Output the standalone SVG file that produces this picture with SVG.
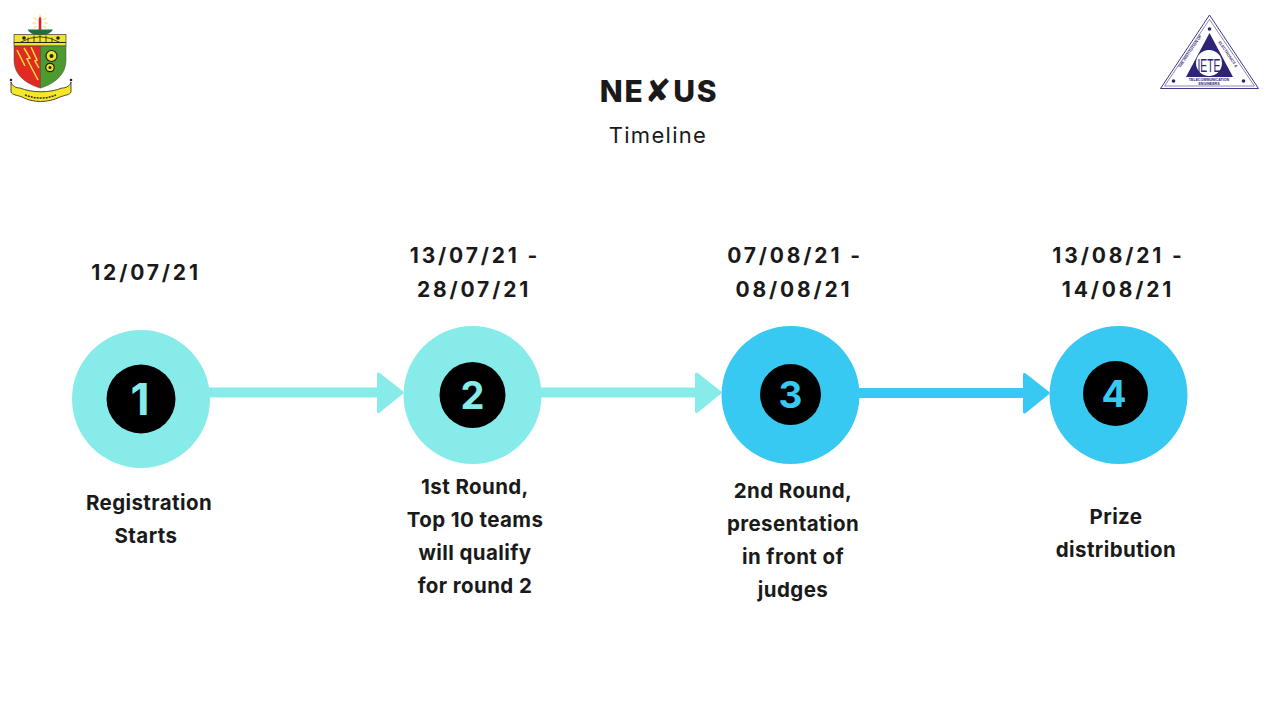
<svg xmlns="http://www.w3.org/2000/svg" width="1280" height="720" viewBox="0 0 1280 720">
<style>
text{font-family:Inter,"Liberation Sans",sans-serif;fill:#1a1a1a;text-anchor:middle}
.date{font-size:21px;font-weight:700;letter-spacing:2.850px}
.lab{font-size:20.500px;font-weight:700;letter-spacing:.4px}
.num{font-weight:700}
.teal{fill:#87ebe9}.blue{fill:#38c9f2}
.ct{fill:none;stroke-width:10}
.logo{font-family:"Liberation Sans",sans-serif;font-weight:700;fill:#2d2474}
</style>
<rect width="1280" height="720" fill="#fff"/>
<g id="connectors">
<path d="M209 392.500H381" stroke="#87ebe9" class="ct"/>
<path d="M378.500 374V411.500L402 392.500Z" fill="#87ebe9" stroke="#87ebe9" stroke-width="3" stroke-linejoin="round"/>
<path d="M540 392.500H699" stroke="#87ebe9" class="ct"/>
<path d="M696.500 374V411.500L720 392.500Z" fill="#87ebe9" stroke="#87ebe9" stroke-width="3" stroke-linejoin="round"/>
<path d="M858 393H1027" stroke="#38c9f2" class="ct"/>
<path d="M1024.500 374.500V412L1048 393Z" fill="#38c9f2" stroke="#38c9f2" stroke-width="3" stroke-linejoin="round"/>
</g>
<g id="title"><text x="659" y="102" style="font-size:30px;font-weight:800;letter-spacing:1.800px">NE<tspan style="font-family:'DejaVu Sans',sans-serif;font-size:32px">✘</tspan>US</text>
<text x="658" y="143" style="font-size:22px;font-weight:400;letter-spacing:1.300px">Timeline</text></g>
<g id="node1"><circle cx="141" cy="399" r="69" class="teal"/><circle cx="141" cy="399" r="34.500" fill="#000"/><text x="140" y="415" class="num" style="fill:#87ebe9;font-size:44px">1</text>
<text x="146" y="280" class="date">12/07/21</text><text x="149" y="510" class="lab">Registration</text><text x="146" y="543" class="lab">Starts</text></g>
<g id="node2"><circle cx="472.500" cy="395" r="69" class="teal"/><circle cx="472.500" cy="395" r="33" fill="#000"/><text x="472.500" y="409" class="num" style="fill:#87ebe9;font-size:38px">2</text>
<text x="475" y="263" class="date">13/07/21 -</text><text x="474" y="297" class="date">28/07/21</text>
<text x="475" y="494" class="lab">1st Round,</text><text x="475" y="527" class="lab">Top 10 teams</text><text x="475" y="560" class="lab">will qualify</text><text x="475" y="593" class="lab">for round 2</text></g>
<g id="node3"><circle cx="790.500" cy="395" r="69" class="blue"/><circle cx="790.500" cy="394.500" r="30.500" fill="#000"/><text x="790.500" y="408" class="num" style="fill:#38c9f2;font-size:37px">3</text>
<text x="795" y="263" class="date">07/08/21 -</text><text x="794" y="297" class="date">08/08/21</text>
<text x="793" y="498" class="lab">2nd Round,</text><text x="793" y="531" class="lab">presentation</text><text x="793" y="564" class="lab">in front of</text><text x="793" y="597" class="lab">judges</text></g>
<g id="node4"><circle cx="1118.500" cy="395" r="69" class="blue"/><circle cx="1115.500" cy="393.500" r="32.500" fill="#000"/><text x="1114" y="407" class="num" style="fill:#38c9f2;font-size:37px">4</text>
<text x="1118.500" y="263" class="date">13/08/21 -</text><text x="1118" y="297" class="date">14/08/21</text>
<text x="1116" y="524" class="lab">Prize</text><text x="1116" y="557" class="lab">distribution</text></g>
<g id="logo-left">
<path d="M40 14.500V18M33.500 17.500L36.500 20M46.500 17.500L43.500 20M32.500 23H36M47.500 23H44M33.500 28L36.500 26M46.500 28L43.500 26" fill="none" stroke="#f2d93a" stroke-width="1"/>
<path d="M40 16.500C41.800 19 41.500 20 41.300 21V30.500H38.700V21C38.500 20 38.500 19 40 16.500Z" fill="#e01f26"/>
<path d="M27.500 29.500H53C51 32.500 48 35 40 35S29.500 32.500 27.500 29.500Z" fill="#1f6f3a"/>
<path d="M14 34.500H66V46H14Z" fill="#efe62c" stroke="#333" stroke-width=".7"/>
<path d="M14 42.500H66" stroke="#222" stroke-width="1"/>
<path d="M20 42.500Q40 31 60 42.500M28 37.500V42.500M34 35.500V42.500M40 35V42.500M46 35.500V42.500M52 37.500V42.500" fill="none" stroke="#222" stroke-width=".8"/>
<circle cx="24" cy="38" r="1.800" fill="#222"/><circle cx="58" cy="38" r="1.800" fill="#222"/>
<path d="M14 46H40.500V88C26 84 14 75 14 60Z" fill="#e12a20" stroke="#444" stroke-width=".5"/>
<path d="M40.500 46H66V60C66 75 54 84 40.500 88Z" fill="#4c9b2f" stroke="#444" stroke-width=".5"/>
<path d="M17 50L25 66M24 48L30 58L27 59L38 80M31 47L37 60L35 61L39 68" stroke="#f3e33a" stroke-width="1.500" fill="none"/>
<circle cx="51.500" cy="56" r="5.500" fill="#efe62c" stroke="#222" stroke-width="1.200"/><circle cx="51.500" cy="56" r="2" fill="#222"/>
<circle cx="50" cy="67.500" r="4.200" fill="#efe62c" stroke="#222" stroke-width="1.200"/><circle cx="50" cy="67.500" r="1.500" fill="#222"/>
<path d="M11 82V92C12 95 17 95 22 97C33 103 48 103 60 97C65 95 70 95 71 92V82C70 86 66 88 62 88C50 93 32 93 20 88C16 88 12 86 11 82Z" fill="#f5e628" stroke="#222" stroke-width=".8"/>
<path d="M25 95C35 99 47 99 56 95" fill="none" stroke="#333" stroke-width="1.500" stroke-dasharray="2 1"/>
<circle cx="11" cy="80" r="1.300" fill="#222"/><circle cx="71" cy="80" r="1.300" fill="#222"/>
</g>
<g id="logo-right">
<path d="M1209.500 15L1258.500 88.500H1160.500Z" fill="#fff" stroke="#3f3a8c" stroke-width="1"/>
<path d="M1209.500 19.500L1254.500 86H1164.500Z" fill="none" stroke="#3f3a8c" stroke-width=".6"/>
<path d="M1209.500 33L1233 77H1186Z" fill="#2d2474"/>
<circle cx="1209" cy="63" r="13" fill="#fff"/>
<circle cx="1209.500" cy="29" r="1.800" fill="#2d2474"/><circle cx="1173.500" cy="81" r="1.800" fill="#2d2474"/><circle cx="1243.500" cy="81" r="1.800" fill="#2d2474"/>
<text x="1209" y="72" class="logo" textLength="23" lengthAdjust="spacingAndGlyphs" style="font-size:19px;font-weight:400">IETE</text>
<text x="1209" y="80.500" class="logo" style="font-size:3.600px">TELECOMMUNICATION</text>
<text x="1209" y="84.500" class="logo" style="font-size:3.600px">ENGINEERS</text>
<text transform="translate(1191 52) rotate(-56)" class="logo" style="font-size:3.800px">THE INSTITUTION OF</text>
<text transform="translate(1227 55) rotate(56)" class="logo" style="font-size:3.800px">ELECTRONICS &amp;</text>
</g>
</svg>
